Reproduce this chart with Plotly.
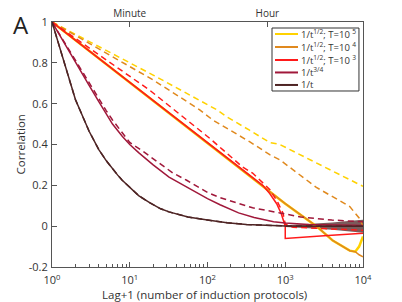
import plotly.graph_objects as go

# ---- data (x = lag+1, y = correlation) ----
brown_x = [1, 2, 3, 4, 5, 6, 7, 8, 10, 13, 18, 25, 32, 56, 100, 178, 316, 562, 1000, 3162, 10000]
brown_y = [1, 0.62, 0.465, 0.375, 0.32, 0.28, 0.25, 0.225, 0.19, 0.15, 0.115, 0.085, 0.07, 0.045, 0.03, 0.017, 0.008, 0.004, 0.001, 0.0, 0.0]

crim_x = [1, 2, 3, 4, 5, 6, 8, 10, 13, 20, 32, 54, 100, 145, 251, 398, 708, 1000, 2000, 10000]
crim_y = [1, 0.80, 0.69, 0.61, 0.55, 0.50, 0.44, 0.40, 0.36, 0.30, 0.24, 0.19, 0.135, 0.105, 0.065, 0.042, 0.022, 0.015, 0.008, 0.003]

crimd_x = [1, 2, 3, 4, 5, 6, 8, 10, 15, 20, 36, 54, 100, 145, 380, 851, 1585, 3981, 10000]
crimd_y = [1, 0.81, 0.70, 0.62, 0.565, 0.52, 0.455, 0.41, 0.365, 0.33, 0.26, 0.225, 0.165, 0.14, 0.09, 0.065, 0.045, 0.03, 0.022]

lin_x = [1, 18.2, 132, 282, 1000, 2512, 4074, 6761, 7943]
lin_y = [1, 0.627, 0.373, 0.275, 0.11, 0.0, -0.07, -0.12, -0.125]

yel_end_x = [8913, 10000]
yel_end_y = [-0.10, -0.05]
org_end_x = [8913, 10000]
org_end_y = [-0.14, -0.15]

red_x = [1, 18.2, 132, 282, 398, 513, 631, 776, 891, 977, 1000, 1000, 1259, 3162, 6310, 10000]
red_y = [1, 0.627, 0.373, 0.275, 0.23, 0.20, 0.16, 0.11, 0.06, 0.02, 0.0, -0.06, -0.058, -0.047, -0.04, -0.035]

redd_x = [1, 18.2, 107, 282, 380, 631, 794, 933, 1000, 1259, 3162, 10000]
redd_y = [1, 0.665, 0.43, 0.29, 0.26, 0.18, 0.12, 0.065, 0.01, -0.005, -0.012, -0.02]

yeld_x = [1, 3.16, 20.0, 132, 178, 347, 631, 851, 2512, 6761, 8913, 10000]
yeld_y = [1, 0.90, 0.74, 0.57, 0.535, 0.47, 0.41, 0.40, 0.31, 0.23, 0.205, 0.195]

orgd_x = [1, 20.0, 79.4, 117, 347, 631, 851, 2512, 6761, 8913, 10000]
orgd_y = [1, 0.716, 0.57, 0.52, 0.414, 0.35, 0.325, 0.19, 0.096, 0.04, 0.0]

noise_x = [1000, 2000, 4000, 7000, 10000]
noise_hi = [0.004, 0.010, 0.018, 0.026, 0.032]
noise_lo = [-0.004, -0.010, -0.018, -0.026, -0.032]

x_ticks = [1, 10, 100, 1000, 10000]
x_ticktext = ["10<sup>0</sup>", "10<sup>1</sup>", "10<sup>2</sup>", "10<sup>3</sup>", "10<sup>4</sup>"]
x_minor = [m * d for d in (1, 10, 100, 1000) for m in range(2, 10)]
y_ticks = [-0.2, 0, 0.2, 0.4, 0.6, 0.8, 1]
y_ticktext = ["-0.2", "0", "0.2", "0.4", "0.6", "0.8", "1"]
top_ticks = [10, 589]
top_ticktext = ["Minute", "Hour"]

legend_labels = ["1/t<sup>1/2</sup>; T=10 <sup>5</sup>", "1/t<sup>1/2</sup>; T=10 <sup>4</sup>",
                 "1/t<sup>1/2</sup>; T=10 <sup>3</sup>", "1/t<sup>3/4</sup>", "1/t"]

YEL = "#FFD200"
ORG = "#E0891E"
RED = "#FF1A1A"
CRIM = "#A0183A"
BRN = "#4E2424"
legend_colors = [YEL, ORG, RED, CRIM, BRN]
DASH = "6px,4px"
W = 1.5

fig = go.Figure()

def line(x, y, color, width=W, dash=None):
    fig.add_trace(go.Scatter(x=x, y=y, mode="lines", showlegend=False, hoverinfo="skip",
                             line=dict(color=color, width=width, dash=dash)))

# noise band near the end
fig.add_trace(go.Scatter(x=noise_x + noise_x[::-1], y=noise_hi + noise_lo[::-1], mode="lines", fill="toself",
                         fillcolor="rgba(78,36,36,0.75)", line=dict(width=0), showlegend=False,
                         hoverinfo="skip"))

line(yeld_x, yeld_y, YEL, dash=DASH)
line(orgd_x, orgd_y, ORG, dash=DASH)
line(lin_x + yel_end_x, lin_y + yel_end_y, YEL, width=2.5)
line(lin_x + org_end_x, lin_y + org_end_y, ORG)
line(redd_x, redd_y, RED, dash=DASH)
line(red_x, red_y, RED)
line(crimd_x, crimd_y, CRIM, dash=DASH)
line(crim_x, crim_y, CRIM)
line(brown_x, brown_y, BRN, dash=DASH)
line(brown_x, brown_y, BRN)

# invisible trace to activate top axis
fig.add_trace(go.Scatter(x=[1, 10000], y=[None, None], xaxis="x2", mode="lines", showlegend=False, hoverinfo="skip"))

FONT = "Open Sans, Liberation Sans, sans-serif"
AX = "#555555"
TXT = "#333333"

fig.update_layout(
    width=402, height=302,
    margin=dict(l=52, r=39, t=22, b=35),
    paper_bgcolor="white", plot_bgcolor="white",
    font=dict(family=FONT, size=11, color=TXT),
    showlegend=False,
    hovermode=False,
    xaxis=dict(type="log", range=[0, 4], tickvals=x_ticks, ticktext=x_ticktext, automargin=False,
               ticks="inside", ticklen=5, tickcolor=AX, showline=True, linecolor=AX, linewidth=1,
               showgrid=False, zeroline=False, ticklabelstandoff=3,
               minor=dict(tickmode="array", tickvals=x_minor, ticks="inside", ticklen=3, tickcolor=AX, showgrid=False),
               tickfont=dict(size=11)),
    xaxis2=dict(type="log", range=[0, 4], overlaying="x", side="top", anchor="y", automargin=False,
                tickvals=top_ticks, ticktext=top_ticktext, ticks="inside", ticklen=5, tickcolor=AX,
                showline=True, linecolor=AX, linewidth=1.2, showgrid=False, zeroline=False,
                tickfont=dict(size=10)),
    yaxis=dict(range=[-0.2, 1], tickvals=y_ticks, ticktext=y_ticktext, automargin=False,
               ticks="inside", ticklen=5, tickcolor=AX, showline=True, linecolor=AX, linewidth=1,
               mirror=True, showgrid=False, zeroline=False, ticklabelstandoff=1,
               tickfont=dict(size=11)),
)

# axis titles as annotations for exact placement
fig.add_annotation(text="Lag+1 (number of induction protocols)", xref="paper", yref="paper",
                   x=0.49, y=-0.114, xanchor="center", yanchor="middle", showarrow=False,
                   font=dict(size=11.5, color=TXT, family=FONT))
fig.add_annotation(text="Correlation", xref="paper", yref="paper", x=-0.1, y=0.5, textangle=-90,
                   xanchor="center", yanchor="middle", showarrow=False,
                   font=dict(size=11.5, color=TXT, family=FONT))

# manual legend (box, samples, labels) in paper coordinates
lx0, lx1, ly0, ly1 = 0.7074, 0.987, 0.7184, 0.9755
fig.add_shape(type="rect", xref="paper", yref="paper", x0=lx0, x1=lx1, y0=ly0, y1=ly1,
              line=dict(color="#333333", width=1), fillcolor="white", layer="above")
row_y = [0.951, 0.898, 0.845, 0.794, 0.743]
for yy, col, lab in zip(row_y, legend_colors, legend_labels):
    fig.add_shape(type="line", xref="paper", yref="paper", x0=0.717, x1=0.791, y0=yy, y1=yy,
                  line=dict(color=col, width=2), layer="above")
    fig.add_annotation(text=lab, xref="paper", yref="paper", x=0.795, y=yy, xanchor="left", yanchor="middle",
                       showarrow=False, font=dict(size=9.5, color=TXT, family=FONT))

fig.add_annotation(text="A", xref="paper", yref="paper", x=-0.1, y=0.988, xanchor="center", yanchor="middle",
                   showarrow=False, font=dict(size=24, color="#222222", family=FONT))

fig.write_html("out.html", config={"displayModeBar": False, "staticPlot": True},
               post_script="document.body.style.margin='0';document.body.style.overflow='hidden';")
